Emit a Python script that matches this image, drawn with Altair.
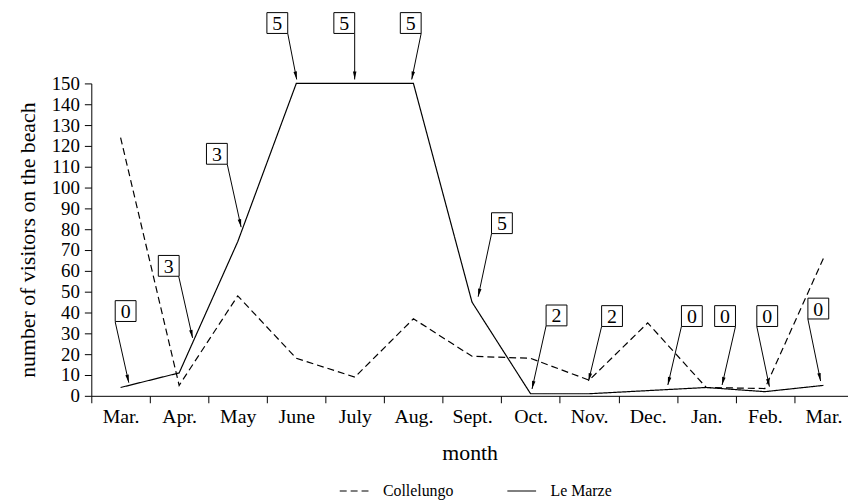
import math
import altair as alt
import pandas as pd

# ---------------- data ----------------
months = ["Mar.", "Apr.", "May", "June", "July", "Aug.", "Sept.",
          "Oct.", "Nov.", "Dec.", "Jan.", "Feb.", "Mar."]
month_idx = list(range(len(months)))
collelungo = [124, 5, 48, 18, 9, 37, 19, 18, 7.5, 35, 4, 3.5, 66]
le_marze = [4, 11, 74, 150, 150, 150, 45, 1, 1, 2.5, 4, 2, 5]
sites = ["Collelungo", "Le Marze"]
y_ticks = list(range(0, 151, 10))

# annotation boxes: label, box centre (x, y), arrow start (x, y), arrow tip (x, y)
ann_labels = ["0", "3", "3", "5", "5", "5", "5", "2", "2", "0", "0", "0", "0"]
box_x = [0.086, 0.822, 1.644, 2.676, 3.819, 4.954, 6.511, 7.443, 8.391, 9.754, 10.321, 11.041, 11.913]
box_y = [40.7, 62.4, 116.2, 179.0, 179.0, 179.0, 82.9, 38.6, 38.3, 38.3, 38.3, 38.3, 41.9]
start_x = [-0.092, 0.992, 1.821, 2.854, 3.997, 5.132, 6.334, 7.265, 8.213, 9.576, 10.499, 10.863, 11.735]
start_y = [35.5, 57.4, 111.2, 174.0, 174.0, 174.0, 77.9, 33.6, 33.3, 33.3, 33.3, 33.3, 36.9]
tip_x = [0.14, 1.229, 2.058, 3.007, 3.997, 4.971, 6.105, 7.025, 7.99, 9.344, 10.27, 11.078, 11.952]
tip_y = [6.3, 27.8, 81.0, 151.9, 151.9, 151.9, 47.6, 3.3, 7.1, 5.2, 5.2, 4.4, 7.1]

# ---------------- layout ----------------
W, H = 763, 315
XMIN, XMAX = -0.5, 12.42
YMIN, YMAX = 0, 150
BAND = W / (XMAX - XMIN)
PXY = H / (YMAX - YMIN)
FONT = "Liberation Serif"

rows = []
for i, m in enumerate(months):
    rows.append({"i": month_idx[i], "v": collelungo[i], "site": sites[0]})
    rows.append({"i": month_idx[i], "v": le_marze[i], "site": sites[1]})
df = pd.DataFrame(rows)

angles = []
for k in range(len(ann_labels)):
    dx = (tip_x[k] - start_x[k]) * BAND
    dy = -(tip_y[k] - start_y[k]) * PXY
    angles.append(math.degrees(math.atan2(-dx, dy)) % 360)

ann = pd.DataFrame({
    "label": ann_labels, "bx": box_x, "by": box_y,
    "sx": start_x, "sy": start_y, "tx": tip_x, "ty": tip_y, "ang": angles,
})

xs = alt.Scale(domain=[XMIN, XMAX], nice=False, zero=False)
ys = alt.Scale(domain=[YMIN, YMAX], nice=False, zero=True)

label_js = "[" + ",".join("'%s'" % m for m in months) + "][datum.value]"

xaxis = alt.Axis(
    values=month_idx, labelExpr=label_js, tickOffset=-BAND / 2, labelOffset=BAND / 2,
    tickSize=7, grid=False, labelFont=FONT, labelFontSize=20, labelPadding=4,
    labelFlush=False, labelOverlap=False, titleFont=FONT, titleFontSize=22,
    titleFontWeight="normal", titlePadding=16, domainColor="black",
    tickColor="black", labelColor="black", titleColor="black",
)
yaxis = alt.Axis(
    values=y_ticks, tickCount=len(y_ticks), tickSize=7, grid=False, labelFont=FONT,
    labelFontSize=19, labelPadding=5, labelFlush=False, labelOverlap=False,
    titleFont=FONT, titleFontSize=22, titleFontWeight="normal", titlePadding=12,
    domainColor="black", tickColor="black", labelColor="black", titleColor="black",
)
XT = "month"
YT = "number of visitors on the beach"

lines = alt.Chart(df).mark_line(color="black", strokeWidth=1.2).encode(
    x=alt.X("i:Q", scale=xs, axis=xaxis, title=XT),
    y=alt.Y("v:Q", scale=ys, axis=yaxis, title=YT),
    strokeDash=alt.StrokeDash(
        "site:N",
        scale=alt.Scale(domain=sites, range=[[7, 4], [1, 0]]),
        legend=alt.Legend(
            title=None, orient="none", legendX=257, legendY=403, direction="horizontal",
            symbolType="M-2,0H2", symbolSize=210, symbolStrokeWidth=1.2,
            symbolStrokeColor="black", labelFont=FONT, labelFontSize=16,
            labelColor="black", labelOffset=21, columnPadding=51,
        ),
    ),
)

arrows = alt.Chart(ann).mark_rule(color="black", strokeWidth=1).encode(
    x=alt.X("sx:Q", scale=xs, axis=xaxis, title=XT),
    y=alt.Y("sy:Q", scale=ys, axis=yaxis, title=YT),
    x2="tx:Q", y2="ty:Q",
)

heads = alt.Chart(ann).mark_point(
    shape="M0,0L-0.22,-1L0.22,-1Z", filled=True, color="black", size=256, opacity=1,
).encode(
    x=alt.X("tx:Q", scale=xs, axis=xaxis, title=XT),
    y=alt.Y("ty:Q", scale=ys, axis=yaxis, title=YT),
    angle=alt.Angle("ang:Q", scale=None),
)

boxes = alt.Chart(ann).mark_point(
    shape="square", filled=True, fill="white", stroke="black", strokeWidth=1,
    size=441, opacity=1,
).encode(
    x=alt.X("bx:Q", scale=xs, axis=xaxis, title=XT),
    y=alt.Y("by:Q", scale=ys, axis=yaxis, title=YT),
)

texts = alt.Chart(ann).mark_text(
    font=FONT, fontSize=20, color="black", align="center", baseline="middle", dy=1,
).encode(
    x=alt.X("bx:Q", scale=xs, axis=xaxis, title=XT),
    y=alt.Y("by:Q", scale=ys, axis=yaxis, title=YT),
    text="label:N",
)

chart = alt.layer(lines, arrows, heads, boxes, texts).properties(
    width=W, height=H,
    padding={"left": 8, "top": 0, "right": 0, "bottom": 0},
).configure_view(stroke=None)

chart.save("out.html", embed_options={"renderer": "svg", "actions": False})
